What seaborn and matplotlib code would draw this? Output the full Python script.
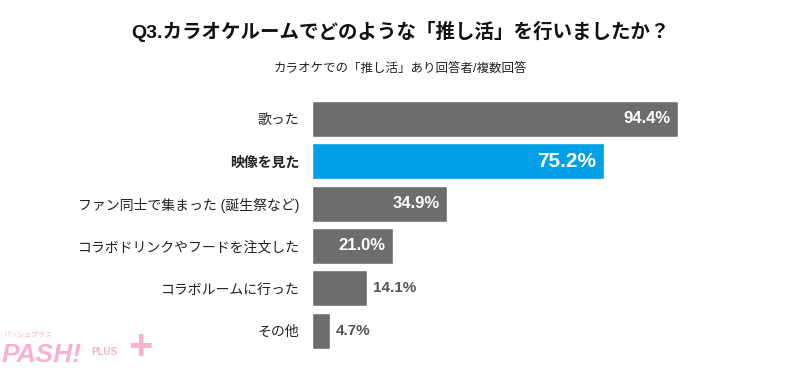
import pandas as pd
import seaborn as sns
import matplotlib.pyplot as plt

categories = ["歌った", "映像を見た", "ファン同士で集まった (誕生祭など)",
              "コラボドリンクやフードを注文した", "コラボルームに行った", "その他"]
values = [94.4, 75.2, 34.9, 21.0, 14.1, 4.7]
highlight = "映像を見た"

GRAY = "#6d6d6d"
BLUE = "#00a0e6"
PINK = "#f6b3cf"

sns.set_theme(style="white")
plt.rcParams['font.family'] = ['Liberation Sans', 'Noto Sans CJK JP', 'DejaVu Sans']

df = pd.DataFrame({"item": categories, "pct": values})
colors = [BLUE if c == highlight else GRAY for c in categories]

fig = plt.figure(figsize=(8, 3.7), dpi=100)
ax = fig.add_axes([0.39, 0.049, 0.485, 0.687])
sns.barplot(data=df, x="pct", y="item", hue="item", palette=colors,
            legend=False, width=0.85, ax=ax, saturation=1)
ax.set_xlim(0, 100)
ax.set_xlabel("")
ax.set_ylabel("")
ax.set_xticks([])
sns.despine(ax=ax, left=True, bottom=True)
ax.tick_params(axis="y", length=0, pad=9, labelsize=10, labelcolor="#222222")
for lbl in ax.get_yticklabels():
    if lbl.get_text() == highlight:
        lbl.set_fontweight("bold")

# value labels
for i, (cat, v) in enumerate(zip(categories, values)):
    txt = f"{v:.1f}%"
    if v >= 20:
        size = 15 if cat == highlight else 12
        ax.text(v - 2, i, txt, ha="right", va="center", color="white",
                fontsize=size, fontweight="bold")
    else:
        ax.text(v + 1.5, i, txt, ha="left", va="center", color="#555555",
                fontsize=11, fontweight="bold")

fig.text(0.5, 0.915, "Q3.カラオケルームでどのような「推し活」を行いましたか？",
         ha="center", va="center", fontsize=14, fontweight="bold", color="#111111")
fig.text(0.5, 0.815, "カラオケでの「推し活」あり回答者/複数回答",
         ha="center", va="center", fontsize=9, color="#222222")

# watermark
fig.text(0.002, 0.008, "PASH!", ha="left", va="bottom", fontsize=19,
         fontweight="bold", fontstyle="italic", color=PINK)
fig.text(0.175, 0.06, "+", ha="center", va="center", fontsize=30,
         fontweight="bold", color=PINK)
fig.text(0.13, 0.035, "PLUS", ha="center", va="bottom", fontsize=7,
         fontweight="bold", color=PINK)
fig.text(0.005, 0.085, "パッシュプラス", ha="left", va="bottom", fontsize=5,
         color=PINK)

fig.savefig("out.png", dpi=100)
